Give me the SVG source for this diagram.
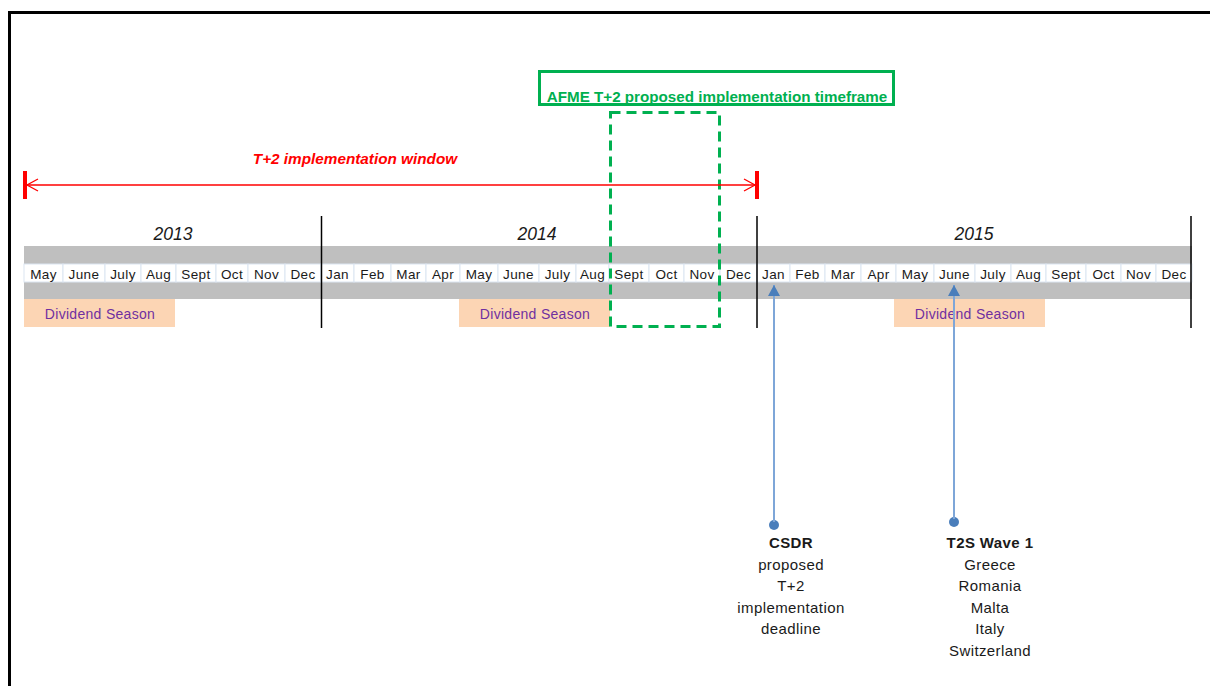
<svg xmlns="http://www.w3.org/2000/svg" width="1210" height="686" viewBox="0 0 1210 686">
<style>
.t{font-family:"Liberation Sans","Open Sans",sans-serif;fill:#1a1a1a}
.m{font-size:13.5px;letter-spacing:0.4px;text-anchor:middle}
.cell{fill:#ffffff;stroke:#dbe5f1;stroke-width:1}
.band{fill:#bfbfbf}
.yr{font-size:17.5px;font-style:italic;text-anchor:middle}
.div{stroke:#000;stroke-width:1.5}
.ds{fill:#fcd5b4}
.dst{font-size:14px;letter-spacing:0.3px;fill:#7030a0;text-anchor:middle}
.lbl{font-size:15px;letter-spacing:0.4px;text-anchor:middle}
.blue{stroke:#7ea6d8;stroke-width:2;fill:none}
</style>
<defs>
<marker id="chev" markerWidth="14" markerHeight="14" refX="12" refY="7" orient="auto-start-reverse" markerUnits="userSpaceOnUse">
<path d="M1,1 L12,7 L1,13" fill="none" stroke="#ff0000" stroke-width="1.3"/>
</marker>
<marker id="barr" markerWidth="12" markerHeight="12" refX="11" refY="6" orient="auto" markerUnits="userSpaceOnUse">
<path d="M0,0 L11,6 L0,12 Z" fill="#4a7ebb"/>
</marker>
</defs>
<rect x="0" y="0" width="1210" height="686" fill="#ffffff"/>
<path d="M9.5,686 V12.5 H1210" fill="none" stroke="#000" stroke-width="3"/>

<g id="timeline">
<rect class="band" x="24" y="246" width="1168" height="18"/>
<rect class="band" x="24" y="282" width="1168" height="17"/>
<g id="months">
<rect class="cell" x="24" y="264" width="39" height="18"/><text class="t m" x="43.5" y="278.5">May</text>
<rect class="cell" x="63" y="264" width="42" height="18"/><text class="t m" x="84" y="278.5">June</text>
<rect class="cell" x="105" y="264" width="36" height="18"/><text class="t m" x="123" y="278.5">July</text>
<rect class="cell" x="141" y="264" width="35" height="18"/><text class="t m" x="158.5" y="278.5">Aug</text>
<rect class="cell" x="176" y="264" width="40" height="18"/><text class="t m" x="196" y="278.5">Sept</text>
<rect class="cell" x="216" y="264" width="32" height="18"/><text class="t m" x="232" y="278.5">Oct</text>
<rect class="cell" x="248" y="264" width="37" height="18"/><text class="t m" x="266.5" y="278.5">Nov</text>
<rect class="cell" x="285" y="264" width="36" height="18"/><text class="t m" x="303" y="278.5">Dec</text>
<rect class="cell" x="321" y="264" width="33" height="18"/><text class="t m" x="337.5" y="278.5">Jan</text>
<rect class="cell" x="354" y="264" width="37" height="18"/><text class="t m" x="372.5" y="278.5">Feb</text>
<rect class="cell" x="391" y="264" width="35" height="18"/><text class="t m" x="408.5" y="278.5">Mar</text>
<rect class="cell" x="426" y="264" width="34" height="18"/><text class="t m" x="443" y="278.5">Apr</text>
<rect class="cell" x="460" y="264" width="38" height="18"/><text class="t m" x="479" y="278.5">May</text>
<rect class="cell" x="498" y="264" width="41" height="18"/><text class="t m" x="518.5" y="278.5">June</text>
<rect class="cell" x="539" y="264" width="37" height="18"/><text class="t m" x="557.5" y="278.5">July</text>
<rect class="cell" x="576" y="264" width="33" height="18"/><text class="t m" x="592.5" y="278.5">Aug</text>
<rect class="cell" x="609" y="264" width="40" height="18"/><text class="t m" x="629" y="278.5">Sept</text>
<rect class="cell" x="649" y="264" width="35" height="18"/><text class="t m" x="666.5" y="278.5">Oct</text>
<rect class="cell" x="684" y="264" width="36" height="18"/><text class="t m" x="702" y="278.5">Nov</text>
<rect class="cell" x="720" y="264" width="37" height="18"/><text class="t m" x="738.5" y="278.5">Dec</text>
<rect class="cell" x="757" y="264" width="33" height="18"/><text class="t m" x="773.5" y="278.5">Jan</text>
<rect class="cell" x="790" y="264" width="35" height="18"/><text class="t m" x="807.5" y="278.5">Feb</text>
<rect class="cell" x="825" y="264" width="36" height="18"/><text class="t m" x="843" y="278.5">Mar</text>
<rect class="cell" x="861" y="264" width="35" height="18"/><text class="t m" x="878.5" y="278.5">Apr</text>
<rect class="cell" x="896" y="264" width="38" height="18"/><text class="t m" x="915" y="278.5">May</text>
<rect class="cell" x="934" y="264" width="41" height="18"/><text class="t m" x="954.5" y="278.5">June</text>
<rect class="cell" x="975" y="264" width="36" height="18"/><text class="t m" x="993" y="278.5">July</text>
<rect class="cell" x="1011" y="264" width="35" height="18"/><text class="t m" x="1028.5" y="278.5">Aug</text>
<rect class="cell" x="1046" y="264" width="40" height="18"/><text class="t m" x="1066" y="278.5">Sept</text>
<rect class="cell" x="1086" y="264" width="35" height="18"/><text class="t m" x="1103.5" y="278.5">Oct</text>
<rect class="cell" x="1121" y="264" width="35" height="18"/><text class="t m" x="1138.5" y="278.5">Nov</text>
<rect class="cell" x="1156" y="264" width="36" height="18"/><text class="t m" x="1174" y="278.5">Dec</text>
</g>
<line class="div" x1="321.5" y1="216" x2="321.5" y2="328"/>
<line class="div" x1="757" y1="216" x2="757" y2="328"/>
<line class="div" x1="1191" y1="216" x2="1191" y2="328"/>
<text class="t yr" x="173" y="240">2013</text>
<text class="t yr" x="537" y="240">2014</text>
<text class="t yr" x="974" y="240">2015</text>
</g>

<g id="dividend-2013"><rect class="ds" x="24" y="299" width="151" height="28"/><text class="t dst" x="100" y="318.5">Dividend Season</text></g>
<g id="dividend-2014"><rect class="ds" x="459" y="299" width="151" height="28"/><text class="t dst" x="535" y="318.5">Dividend Season</text></g>
<g id="dividend-2015"><rect class="ds" x="894" y="299" width="151" height="28"/><text class="t dst" x="970" y="318.5">Dividend Season</text></g>

<g id="t2-window">
<rect x="23" y="171" width="4" height="28" fill="#ff0000"/>
<rect x="755" y="171" width="4" height="28" fill="#ff0000"/>
<text x="355" y="164" font-family="Liberation Sans, Open Sans, sans-serif" font-size="15.3" font-style="italic" font-weight="bold" fill="#ff0000" text-anchor="middle">T+2 implementation window</text>
</g>

<g id="afme">
<rect x="539.5" y="71.5" width="354" height="33" fill="#ffffff" stroke="#00b050" stroke-width="3"/>
<text x="717" y="101.5" font-family="Liberation Sans, Open Sans, sans-serif" font-size="15.2" font-weight="bold" fill="#00b050" text-anchor="middle">AFME T+2 proposed implementation timeframe</text>
<rect x="610.5" y="112.5" width="109" height="214" fill="none" stroke="#00b050" stroke-width="3" stroke-dasharray="10,6"/>
</g>

<g id="csdr">
<circle cx="774" cy="525" r="5" fill="#4a7ebb"/>
<text class="t lbl" x="791" y="548" font-weight="bold">CSDR</text>
<text class="t lbl" x="791" y="569.5">proposed</text>
<text class="t lbl" x="791" y="591">T+2</text>
<text class="t lbl" x="791" y="612.5">implementation</text>
<text class="t lbl" x="791" y="634">deadline</text>
</g>
<g id="t2s">
<circle cx="954" cy="522" r="5" fill="#4a7ebb"/>
<text class="t lbl" x="990" y="547.5" font-weight="bold">T2S Wave 1</text>
<text class="t lbl" x="990" y="569.5">Greece</text>
<text class="t lbl" x="990" y="591">Romania</text>
<text class="t lbl" x="990" y="612.5">Malta</text>
<text class="t lbl" x="990" y="634">Italy</text>
<text class="t lbl" x="990" y="656">Switzerland</text>
</g>

<g id="connectors">
<line x1="27" y1="185" x2="755" y2="185" stroke="#ff0000" stroke-width="1.3" marker-start="url(#chev)" marker-end="url(#chev)"/>
<line class="blue" x1="774" y1="522" x2="774" y2="285" marker-end="url(#barr)"/>
<line class="blue" x1="954" y1="519" x2="954" y2="285" marker-end="url(#barr)"/>
</g>
</svg>
